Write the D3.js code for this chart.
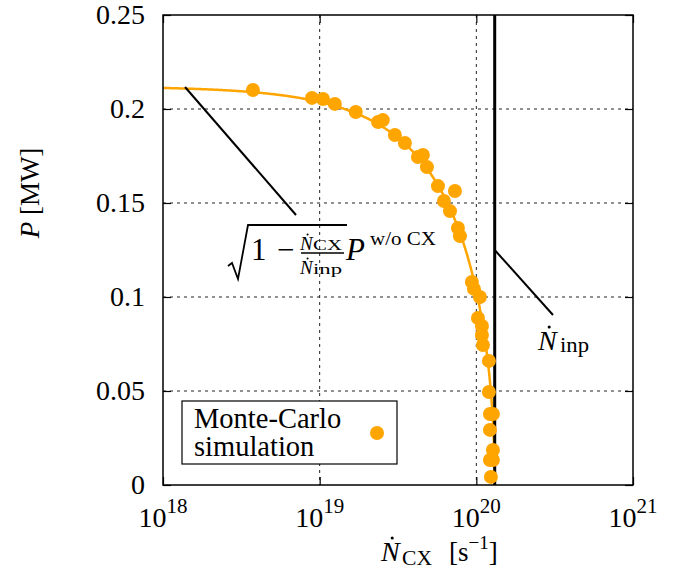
<!DOCTYPE html>
<html>
<head>
<meta charset="utf-8">
<script src="https://cdn.jsdelivr.net/npm/d3@7"></script>
<style>
  body { margin: 0; background: #fff; }
  svg { font-family: "Liberation Serif", "DejaVu Serif", serif; }
</style>
</head>
<body>
<div id="chart"></div>
<script>
// Monte-Carlo points
const mcNcx = [3.75e18, 8.93e18, 1.05e19, 1.25e19, 1.70e19, 2.36e19, 2.53e19, 3.02e19, 3.50e19,
    4.24e19, 4.56e19, 4.84e19, 5.69e19, 7.30e19, 6.21e19, 6.79e19, 7.63e19, 7.86e19,
    9.37e19, 9.66e19, 1.054e20, 1.024e20, 1.086e20, 1.086e20, 1.102e20, 1.203e20,
    1.203e20, 1.221e20, 1.276e20, 1.221e20, 1.276e20, 1.221e20, 1.276e20, 1.239e20];
const mcP = [0.2101, 0.2059, 0.2053, 0.2027, 0.1984, 0.1931, 0.1941, 0.1862, 0.1819,
    0.1745, 0.1755, 0.1691, 0.1590, 0.1564, 0.1511, 0.1457, 0.1367, 0.1324,
    0.1080, 0.1043, 0.1000, 0.0888, 0.0846, 0.0798, 0.0745, 0.0660,
    0.0495, 0.0378, 0.0378, 0.0293, 0.0186, 0.0133, 0.0133, 0.0043];

// model curve parameters
const pNoCX = 0.212;     // MW
const nInp = 1.31e20;    // s^-1

const xTicks = [1e18, 1e19, 1e20, 1e21];
const yTicks = [0, 0.05, 0.1, 0.15, 0.2, 0.25];
const yTickLabels = ["0", "0.05", "0.1", "0.15", "0.2", "0.25"];

const width = 677, height = 578;
const pLeft = 163, pRight = 633, pTop = 15, pBottom = 485;
const orange = "#ffa500";

const svg = d3.select("#chart").append("svg")
    .attr("width", width)
    .attr("height", height);

const x = d3.scaleLog().domain([1e18, 1e21]).range([pLeft, pRight]);
const y = d3.scaleLinear().domain([0, 0.25]).range([pBottom, pTop]);

// grid
svg.append("g").selectAll("line")
    .data(yTicks.filter(d => d > 0 && d < 0.25))
    .enter().append("line")
    .attr("x1", pLeft).attr("x2", pRight)
    .attr("y1", d => y(d)).attr("y2", d => y(d))
    .attr("stroke", "#222").attr("stroke-width", 1)
    .attr("stroke-dasharray", "3,4");

svg.append("g").selectAll("line")
    .data(xTicks.slice(1, 3))
    .enter().append("line")
    .attr("x1", d => x(d)).attr("x2", d => x(d))
    .attr("y1", pTop).attr("y2", pBottom)
    .attr("stroke", "#222").attr("stroke-width", 1)
    .attr("stroke-dasharray", "3,4");

// axes (ticks inward)
const yAxis = svg.append("g")
    .attr("transform", "translate(" + pLeft + ",0)")
    .call(d3.axisLeft(y).tickValues(yTicks)
        .tickFormat((d, i) => yTickLabels[i])
        .tickSizeInner(-8).tickSizeOuter(0).tickPadding(18));
yAxis.selectAll("text").attr("font-size", 28).attr("font-family", "Liberation Serif").attr("fill", "#000");

svg.append("g")
    .attr("transform", "translate(" + pRight + ",0)")
    .call(d3.axisRight(y).tickValues(yTicks).tickFormat("")
        .tickSizeInner(-8).tickSizeOuter(0));

svg.append("g")
    .attr("transform", "translate(0," + pBottom + ")")
    .call(d3.axisBottom(x).tickValues(xTicks).tickFormat("")
        .tickSizeInner(-8).tickSizeOuter(0));

svg.append("g")
    .attr("transform", "translate(0," + pTop + ")")
    .call(d3.axisTop(x).tickValues(xTicks).tickFormat("")
        .tickSizeInner(-8).tickSizeOuter(0));

svg.selectAll(".domain").remove();
svg.selectAll(".tick line").attr("stroke", "#000").attr("stroke-width", 1.2);

// x tick labels 10^n
const xl = svg.append("g").selectAll("text")
    .data(xTicks)
    .enter().append("text")
    .attr("x", d => x(d))
    .attr("y", 527)
    .attr("text-anchor", "middle")
    .attr("font-size", 28);
xl.append("tspan").text("10");
xl.append("tspan").attr("dy", -14).attr("font-size", 21)
    .text(d => Math.round(Math.log10(d)));

// model curve
const logs = d3.range(0, 501).map(i => 18 + i * (Math.log10(nInp) - 18) / 500);
const curve = logs.map(l => {
    const n = Math.min(Math.pow(10, l), nInp);
    return [n, pNoCX * Math.sqrt(Math.max(0, 1 - n / nInp))];
});
curve.push([nInp, 0]);

svg.append("path")
    .datum(curve)
    .attr("fill", "none")
    .attr("stroke", orange)
    .attr("stroke-width", 2.5)
    .attr("d", d3.line().x(d => x(d[0])).y(d => y(d[1])));

// injection limit
svg.append("line")
    .attr("x1", x(nInp)).attr("x2", x(nInp))
    .attr("y1", pTop).attr("y2", pBottom)
    .attr("stroke", "#000").attr("stroke-width", 3);

// monte-carlo points
svg.append("g").selectAll("circle")
    .data(mcNcx.map((n, i) => [n, mcP[i]]))
    .enter().append("circle")
    .attr("cx", d => x(d[0]))
    .attr("cy", d => y(d[1]))
    .attr("r", 7)
    .attr("fill", orange);

// frame
svg.append("rect")
    .attr("x", pLeft).attr("y", pTop)
    .attr("width", pRight - pLeft).attr("height", pBottom - pTop)
    .attr("fill", "none").attr("stroke", "#000").attr("stroke-width", 1.5);

// annotations
svg.append("line")
    .attr("x1", 185).attr("y1", 87).attr("x2", 296).attr("y2", 215)
    .attr("stroke", "#000").attr("stroke-width", 2);
svg.append("line")
    .attr("x1", x(nInp)).attr("y1", 250).attr("x2", 553).attr("y2", 315)
    .attr("stroke", "#000").attr("stroke-width", 2);

function dotN(g, xx, yy, size) {
    g.append("text").attr("x", xx).attr("y", yy)
        .attr("font-size", size).attr("font-style", "italic").text("N");
    g.append("circle").attr("cx", xx + size * 0.4).attr("cy", yy - size * 0.82)
        .attr("r", size * 0.055).attr("fill", "#000");
}

function stretched(g, xx, yy, size, len, txt) {
    return g.append("text").attr("x", xx).attr("y", yy).attr("font-size", size)
        .attr("textLength", len).attr("lengthAdjust", "spacingAndGlyphs").text(txt);
}

// sqrt(1 - Ncx/Ninp) P^{w/o CX}
const m = svg.append("g");
m.append("path")
    .attr("d", "M228,266 L232,263 L238,279 L248,225 L347,225")
    .attr("fill", "none").attr("stroke", "#000").attr("stroke-width", 1.8);
m.append("text").attr("x", 251).attr("y", 260).attr("font-size", 31).text("1");
m.append("text").attr("x", 277).attr("y", 260).attr("font-size", 31).text("\u2212");
dotN(m, 300, 250, 19);
stretched(m, 313, 250, 15, 29, "CX");
m.append("line").attr("x1", 301).attr("x2", 344).attr("y1", 253).attr("y2", 253)
    .attr("stroke", "#000").attr("stroke-width", 1.3);
dotN(m, 300, 274, 19);
stretched(m, 313, 274, 15, 29, "inp");
m.append("text").attr("x", 346).attr("y", 260).attr("font-size", 31)
    .attr("font-style", "italic").text("P");
stretched(m, 370, 245, 19, 66, "w/o CX");

// N_inp label
dotN(svg, 538, 350, 28);
stretched(svg, 560, 352, 21, 29, "inp");

// axis titles
dotN(svg, 381, 561, 28);
stretched(svg, 402, 565, 20, 30, "CX");
const xt = svg.append("text").attr("x", 449).attr("y", 561).attr("font-size", 27);
xt.append("tspan").text("[s");
xt.append("tspan").attr("dy", -12).attr("font-size", 19).text("\u22121");
xt.append("tspan").attr("dy", 12).text("]");

const yt = svg.append("text")
    .attr("transform", "translate(39,193) rotate(-90)")
    .attr("text-anchor", "middle")
    .attr("font-size", 27);
yt.append("tspan").attr("font-style", "italic").text("P");
yt.append("tspan").text(" [MW]");

// legend
const lg = svg.append("g");
lg.append("rect")
    .attr("x", 182).attr("y", 401).attr("width", 215).attr("height", 63)
    .attr("fill", "#fff").attr("stroke", "#000").attr("stroke-width", 1.2);
lg.append("text").attr("x", 194).attr("y", 428).attr("font-size", 28.5).text("Monte-Carlo");
lg.append("text").attr("x", 194).attr("y", 456).attr("font-size", 28.5).text("simulation");
lg.append("circle").attr("cx", 377).attr("cy", 433).attr("r", 7).attr("fill", orange);
</script>
</body>
</html>
